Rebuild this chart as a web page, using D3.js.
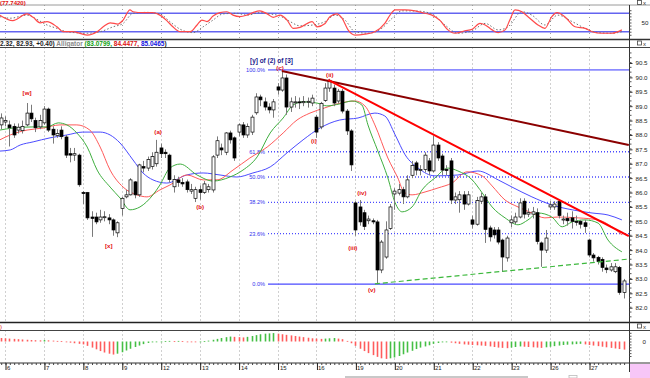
<!DOCTYPE html>
<html>
<head>
<meta charset="utf-8">
<script src="https://cdn.jsdelivr.net/npm/d3@7"></script>
<style>
  body { margin: 0; background: #fff; }
  svg { display: block; }
  text { font-family: "Liberation Sans", Arial, sans-serif; }
</style>
</head>
<body>
<svg width="650" height="378"></svg>
<script>
// ---- values ----
const days = [6, 7, 8, 9, 12, 13, 14, 15, 16, 19, 20, 21, 22, 23, 26, 27];
const barsPerDay = 9;
const firstBar = -1; // one bar of the previous session shows at the left edge

// hourly candles [open, high, low, close], bar -1 .. 143
const candles = [
  [88.35, 88.75, 88.20, 88.59], [88.45, 88.65, 88.30, 88.50], [88.35, 88.50, 87.60, 88.25], [88.30, 88.40, 87.90, 88.00],
  [88.17, 88.40, 88.05, 88.27], [88.15, 88.50, 88.05, 88.30], [88.35, 89.11, 88.30, 88.76], [88.76, 89.05, 88.45, 88.56],
  [88.50, 88.60, 88.10, 88.25], [88.28, 88.70, 88.20, 88.50], [88.42, 89.00, 88.35, 88.90], [88.90, 88.95, 88.10, 88.17],
  [88.20, 88.30, 87.70, 88.00], [87.98, 88.20, 87.90, 88.05], [88.17, 88.30, 87.85, 87.94], [87.93, 88.00, 87.20, 87.30],
  [87.35, 87.55, 87.05, 87.30], [87.30, 87.55, 87.10, 87.35], [87.30, 87.35, 86.20, 86.27], [86.00, 86.05, 85.60, 85.97],
  [86.00, 86.02, 85.05, 85.12], [85.15, 85.35, 84.46, 85.10], [85.15, 85.30, 84.90, 84.98], [85.05, 85.40, 84.95, 85.15],
  [85.15, 85.35, 85.00, 85.16], [85.12, 85.25, 84.90, 85.05], [85.05, 85.10, 84.50, 84.70], [84.60, 85.00, 84.45, 84.95],
  [85.45, 85.85, 85.20, 85.80], [85.85, 86.10, 85.80, 85.92], [85.92, 86.50, 85.90, 86.44], [86.37, 86.40, 85.80, 85.92],
  [85.92, 87.00, 85.85, 86.96], [86.90, 87.10, 86.70, 86.85], [86.85, 87.25, 86.75, 87.15], [86.90, 87.40, 86.80, 87.25],
  [87.00, 87.83, 86.90, 87.40], [87.55, 87.70, 87.20, 87.35], [87.40, 87.50, 87.20, 87.35], [87.30, 87.35, 86.35, 86.45],
  [86.20, 86.60, 86.00, 86.45], [86.44, 86.55, 86.20, 86.35], [86.35, 86.50, 86.20, 86.30], [86.37, 86.45, 86.00, 86.10],
  [86.05, 86.30, 85.95, 86.10], [85.80, 86.20, 85.67, 86.10], [86.10, 86.25, 85.75, 86.00], [86.00, 86.40, 85.95, 86.30],
  [86.10, 86.30, 86.00, 86.20], [86.09, 87.30, 86.00, 87.24], [87.30, 87.95, 87.20, 87.80], [87.55, 87.70, 87.30, 87.48],
  [87.40, 88.10, 87.30, 88.07], [88.07, 88.15, 87.70, 87.83], [87.90, 87.95, 87.10, 87.20], [88.10, 88.40, 87.95, 88.35],
  [88.35, 88.45, 87.90, 88.00], [88.00, 88.40, 87.90, 88.30], [88.10, 88.70, 88.00, 88.62], [88.77, 89.45, 88.70, 89.32],
  [89.32, 89.40, 89.00, 89.22], [89.15, 89.30, 88.85, 88.97], [88.97, 89.10, 88.75, 88.87], [88.87, 89.25, 88.60, 89.15],
  [89.67, 89.80, 89.40, 89.56], [89.56, 90.20, 89.50, 89.98], [89.98, 90.10, 88.70, 88.97], [88.97, 89.30, 88.80, 89.15],
  [89.12, 89.35, 88.95, 89.15], [89.15, 89.30, 88.90, 89.12], [89.12, 89.35, 89.00, 89.16], [89.15, 89.30, 88.95, 89.17],
  [89.11, 89.40, 89.00, 89.28], [88.62, 88.70, 87.90, 88.10], [88.28, 89.15, 88.20, 89.10], [89.20, 89.80, 89.15, 89.63],
  [89.63, 89.95, 89.50, 89.90], [89.63, 89.75, 89.00, 89.11], [89.18, 89.60, 89.10, 89.52], [89.52, 89.60, 88.75, 88.83],
  [88.83, 88.90, 88.00, 88.14], [88.14, 88.20, 86.75, 86.96], [85.64, 85.70, 84.50, 84.70], [85.50, 85.74, 84.85, 84.98],
  [85.30, 85.40, 84.70, 84.82], [85.02, 85.20, 84.90, 85.08], [85.02, 85.10, 84.90, 84.98], [84.98, 85.05, 82.82, 83.31],
  [83.31, 84.35, 83.20, 84.28], [83.76, 85.00, 83.70, 84.70], [84.75, 85.60, 84.70, 85.50], [85.95, 86.15, 85.40, 86.05],
  [85.98, 86.30, 85.90, 86.10], [86.10, 86.20, 85.60, 85.85], [85.85, 86.60, 85.80, 86.44], [86.60, 87.10, 86.50, 86.94],
  [87.03, 87.10, 86.60, 86.78], [86.78, 86.95, 86.60, 86.80], [86.80, 87.40, 86.70, 87.30], [87.10, 87.20, 86.60, 86.75],
  [86.75, 87.97, 86.70, 87.65], [87.65, 87.75, 87.10, 87.20], [87.27, 87.35, 86.60, 86.78], [86.80, 86.95, 86.60, 86.78],
  [87.10, 87.20, 85.60, 85.74], [85.74, 86.00, 85.60, 85.85], [85.75, 86.05, 85.30, 85.92], [85.92, 86.05, 85.40, 85.60],
  [85.60, 86.05, 85.55, 85.92], [85.05, 85.20, 84.75, 84.90], [84.90, 85.85, 84.85, 85.72], [85.70, 86.00, 85.60, 85.85],
  [85.85, 85.95, 84.25, 84.72], [84.77, 84.85, 84.30, 84.46], [84.70, 84.80, 84.40, 84.53], [84.70, 84.80, 84.20, 84.28],
  [84.35, 84.40, 83.24, 83.76], [83.73, 84.50, 83.60, 84.42], [84.95, 85.20, 84.80, 85.05], [84.98, 85.30, 84.90, 85.15],
  [85.15, 85.80, 85.10, 85.64], [85.70, 85.80, 85.10, 85.25], [85.25, 85.45, 85.15, 85.30], [85.25, 85.50, 85.10, 85.33],
  [85.30, 85.45, 84.20, 84.30], [84.25, 84.30, 83.42, 84.00], [84.00, 84.70, 83.90, 84.42], [85.50, 85.70, 85.40, 85.57],
  [85.50, 85.70, 85.40, 85.60], [85.70, 85.75, 85.10, 85.20], [85.05, 85.20, 84.90, 85.08], [85.10, 85.30, 84.85, 85.02],
  [85.12, 85.35, 84.75, 85.00], [85.00, 85.20, 84.85, 84.97], [85.00, 85.05, 84.75, 84.90], [84.95, 85.05, 84.60, 84.82],
  [84.35, 84.40, 83.75, 83.83], [83.83, 83.90, 83.60, 83.73], [83.75, 83.80, 83.50, 83.60], [83.68, 83.75, 83.25, 83.40],
  [83.38, 83.50, 83.20, 83.32], [83.31, 83.55, 83.25, 83.42], [83.25, 83.55, 83.20, 83.42], [83.40, 83.45, 82.45, 82.53],
  [82.53, 83.00, 82.32, 82.93]
];

// Alligator lines, [bar, price]
const jaw = [[-1.2,87.44],[1.2,87.48],[3.5,87.65],[6.5,87.76],[10.4,87.90],[14.3,88.00],[18,88.10],[22,88.10],[24.3,88.00],
  [26.6,87.72],[29.6,87.13],[31.9,86.68],[34.2,86.44],[37.4,86.33],[42,86.61],[45.8,86.68],[49.7,86.61],[53.6,86.54],
  [57.3,86.68],[61.3,86.89],[65.2,87.38],[68.9,87.83],[72.8,88.24],[77.4,88.52],[81.6,88.59],[85.5,88.76],[87.8,88.66],
  [90.2,88.00],[92.5,87.31],[95.5,86.85],[99.4,86.58],[104.7,86.61],[109.3,86.75],[114,86.44],[117.2,86.19],[121.8,85.85],
  [126.4,85.57],[131.1,85.40],[135.7,85.29],[139.4,85.22],[142.6,85.05]];
const teeth = [[-1.2,87.83],[1.2,88.00],[5.1,88.17],[8.8,88.24],[12.7,88.35],[16.6,88.35],[19.6,88.17],[22,87.58],[24.3,86.78],
  [27.3,86.19],[30.5,85.92],[32.8,85.85],[35.8,86.09],[38.1,86.26],[42.1,86.61],[45.8,86.44],[49,86.44],[52.7,86.78],
  [56.6,87.20],[60.6,87.58],[64.3,88.07],[67.5,88.52],[70.5,88.76],[73.9,88.94],[76.8,89.08],[80.9,89.18],[83.2,89.01],
  [85.5,88.35],[88.5,87.20],[90.8,86.51],[92.3,86.00],[94.1,85.92],[97.1,86.02],[100.1,86.16],[103.3,86.33],[106.8,86.72],
  [110.3,86.58],[112.6,86.23],[115.6,85.74],[118.6,85.50],[121.8,85.29],[124.8,85.12],[127.8,85.15],[132.5,85.12],
  [137.1,85.05],[140.3,84.81],[142.6,84.53]];
const lips = [[-1.2,88.17],[1.8,88.24],[6.5,88.28],[9.7,88.28],[12.3,88.42],[14.3,88.35],[16.6,88.07],[19,87.58],[21.3,86.78],
  [24.3,86.19],[26.6,85.81],[28.9,85.40],[31.2,85.50],[34.2,85.92],[35.8,86.26],[38.1,86.85],[40.5,86.99],[44.4,86.61],
  [48.1,86.40],[52,86.54],[55,86.78],[58.3,87.24],[61.3,88.07],[64.3,88.59],[66.6,89.04],[68.9,89.15],[72.1,89.11],
  [74.4,89.01],[77.4,89.08],[80.2,89.18],[82.5,89.04],[83.9,88.35],[86.2,87.44],[88.5,86.51],[90.2,85.64],[91.8,85.33],
  [94.1,85.50],[96.4,86.09],[99.4,86.51],[102.4,86.85],[104.7,86.75],[108,86.44],[110.3,85.99],[112.6,85.50],[115.6,85.12],
  [118.6,84.88],[120.9,85.05],[123.2,85.29],[126.4,85.15],[128.8,84.81],[131.1,84.98],[134.1,85.05],[137.1,84.94],
  [139.4,84.35],[142.6,83.94]];

// Stochastic %K and %D, [bar, value]
const stochK = [[-1.2,74],[1.8,56],[5.1,78],[6.5,67],[8.1,49],[9.7,53],[12,36],[13.4,20],[15.7,20],[19,9],[21.3,20],
  [22.7,36],[24.3,49],[26.1,45],[27.3,58],[28.9,91],[29.6,85],[31.9,82],[34.2,82],[35.8,74],[37.4,56],[38.8,36],
  [40.5,20],[42.8,20],[44.4,42],[45.5,58],[46.7,53],[48.1,71],[49.7,82],[51.3,85],[52.7,74],[54.3,69],[55.9,74],
  [57.3,82],[58.9,88],[60.6,78],[62,67],[63.6,74],[65.2,58],[66.6,31],[68.2,34],[71,53],[72.1,36],[74,47],[75.1,69],
  [76.7,78],[77.9,64],[79.3,26],[80.9,9],[83.2,12],[85.5,20],[87.8,47],[89,74],[90.2,91],[92.5,91],[94.8,88],[97.1,80],
  [98.7,74],[100.6,56],[102.4,26],[104,15],[106.3,23],[108,28],[109.8,47],[111,42],[112.6,26],[114,17],[115.6,26],
  [116.7,58],[117.9,91],[119.5,85],[120.9,69],[123.2,42],[124.8,31],[126.4,69],[127.6,82],[129.4,69],[131.8,36],
  [134.1,31],[135.7,20],[138,15],[140.3,15],[142.6,26]];
const stochD = [[-1.2,69],[1.2,64],[5.1,74],[7.4,60],[9.7,42],[12,31],[14.3,20],[19,15],[22,20],[25,36],[27.3,47],
  [29.6,80],[32.8,83],[35.8,78],[38.1,53],[40.5,28],[43.5,17],[45.8,36],[48.1,58],[50.4,78],[53.6,80],[55.9,74],
  [58.9,82],[61.3,78],[63.6,71],[65.9,53],[68.2,39],[71.2,42],[74,53],[76.3,74],[78.6,58],[80.9,20],[83.9,15],[87.1,31],
  [89.5,64],[91.8,88],[95.5,87],[98.7,78],[101.7,42],[104.7,15],[108,23],[111,47],[114,26],[116.3,36],[119.5,85],
  [121.8,74],[124.8,42],[127.8,74],[131.1,53],[134.1,31],[137.1,17],[140.3,15],[142.6,20]];

// Awesome oscillator, one value per bar (-1 .. 143)
const ao = [0.12, 0.11, 0.10, 0.09, 0.08, 0.07, 0.06, 0.05, 0.045, 0.04, 0.05, 0.04, 0.03, 0.02, 0.01,
  -0.02, -0.04, -0.06, -0.08, -0.10, -0.15, -0.21, -0.27, -0.33, -0.38, -0.42, -0.45, -0.42, -0.37, -0.31,
  -0.25, -0.19, -0.14, -0.09, -0.05, -0.03, -0.02, -0.01, 0.01, 0.02, 0.01, 0.02, 0.01, 0.00, -0.01,
  -0.02, -0.01, 0.01, 0.03, 0.06, 0.09, 0.12, 0.15, 0.17, 0.16, 0.15, 0.14, 0.16, 0.19, 0.22,
  0.25, 0.27, 0.28, 0.29, 0.27, 0.25, 0.23, 0.21, 0.19, 0.17, 0.15, 0.13, 0.11, 0.10, 0.09,
  0.10, 0.11, 0.12, 0.10, 0.08, 0.02, -0.06, -0.15, -0.25, -0.33, -0.40, -0.47, -0.53, -0.58, -0.60,
  -0.58, -0.55, -0.50, -0.44, -0.38, -0.32, -0.26, -0.21, -0.17, -0.13, -0.08, -0.05, -0.03, -0.02, -0.04,
  -0.06, -0.08, -0.10, -0.11, -0.12, -0.13, -0.14, -0.15, -0.17, -0.19, -0.21, -0.22, -0.23, -0.21, -0.19,
  -0.17, -0.18, -0.19, -0.20, -0.21, -0.22, -0.20, -0.18, -0.16, -0.14, -0.12, -0.11, -0.10, -0.09, -0.08,
  -0.10, -0.12, -0.14, -0.16, -0.18, -0.20, -0.22, -0.24, -0.26, -0.28];

const fibHigh = 90.26, fibLow = 82.82;
const fibRatios = [1, 0.618, 0.5, 0.382, 0.236, 0];
const fibNames = ["100.0%", "61.8%", "50.0%", "38.2%", "23.6%", "0.0%"];

// wave count labels [bar, price, text]
const waveLabels = [[5.1, 89.46, "[w]"], [24, 84.15, "[x]"], [35.4, 88.10, "(a)"], [45.1, 85.5, "(b)"],
  [63.6, 90.33, "(c)"], [71.4, 87.79, "(i)"], [75.1, 90.08, "(ii)"], [80.4, 84.08, "(iii)"],
  [82.5, 85.99, "(iv)"], [84.8, 82.62, "(v)"]];

const trendLines = [
  { from: [64.0, 90.22], to: [144.2, 87.65], color: "#8b0000", width: 2 },
  { from: [74.7, 89.91], to: [144.2, 84.49], color: "#ff0000", width: 2 },
  { from: [85.5, 82.83], to: [144.2, 83.69], color: "#3cb83c", width: 1.2, dash: "5,3" }
];

const priceTicks = d3.range(82, 90.51, 0.5);

// header pieces: [text, colour]
const mainHeader = [["2.32, 82.93, +0.40) ", "#222"], ["Alligator ", "#8a8a8a"], ["(83.0799, ", "#10a010"],
  ["84.4477, ", "#e01010"], ["85.0465", "#1010e0"], [")", "#222"]];

// ---- layout ----
const svg = d3.select("svg");
const AX = 629;
const stochTop = 5, stochBot = 39.5, mainTop = 47.5, mainBot = 322.5, aoTop = 330.5, axisY = 363;

const x = d3.scaleLinear().domain([0, 135]).range([5, 589]);
const y = d3.scaleLinear().domain([82, 90.5]).range([307.7, 63]);
const yS = d3.scaleLinear().domain([0, 100]).range([37.85, 7.15]);
const yA = d3.scaleLinear().domain([-0.6, 0.3]).range([358.9, 332.8]);

const defs = svg.append("defs");
function clip(id, y0, y1) {
  defs.append("clipPath").attr("id", id).append("rect")
    .attr("x", 0).attr("y", y0).attr("width", AX).attr("height", y1 - y0);
  return `url(#${id})`;
}

const dayStarts = days.map((d, k) => k * barsPerDay);
const px = i => Math.round(x(i)) + 0.5;

// vertical dotted day lines in every panel
[[stochTop, stochBot], [mainTop, mainBot], [aoTop, axisY]].forEach(([a, b]) => {
  svg.append("g").selectAll("line").data(dayStarts).join("line")
    .attr("x1", px).attr("x2", px).attr("y1", a).attr("y2", b)
    .attr("stroke", "#a0a0a0").attr("stroke-dasharray", "1,3");
});

// panel separators
[[stochTop, "#9a9a9a", 1], [stochBot, "#333", 1.5], [mainTop, "#444", 1], [mainBot, "#222", 1.5], [aoTop, "#444", 1], [axisY, "#333", 1]]
  .forEach(([yy, c, w]) => svg.append("line").attr("x1", 0).attr("x2", 650).attr("y1", yy).attr("y2", yy)
    .attr("stroke", c).attr("stroke-width", w));

// ---- stochastic panel ----
const gS = svg.append("g").attr("clip-path", clip("cs", stochTop, stochBot));
[80, 20].forEach(v => gS.append("line").attr("x1", 0).attr("x2", AX).attr("y1", yS(v)).attr("y2", yS(v))
  .attr("stroke", "#6464f0").attr("stroke-width", 1.6));
const sLine = d3.line().x(d => x(d[0])).y(d => yS(d[1])).curve(d3.curveMonotoneX);
gS.append("path").datum(stochD).attr("d", sLine).attr("fill", "none")
  .attr("stroke", "#707070").attr("stroke-width", 1).attr("stroke-dasharray", "1.5,2");
gS.append("path").datum(stochK).attr("d", sLine).attr("fill", "none")
  .attr("stroke", "#ff4a4a").attr("stroke-width", 1.2);

// ---- main panel ----
const gM = svg.append("g").attr("clip-path", clip("cm", mainTop, mainBot));

// fibonacci levels
fibRatios.forEach((r, k) => {
  const v = fibLow + (fibHigh - fibLow) * r;
  const solid = r === 1 || r === 0;
  gM.append("line").attr("x1", 268).attr("x2", AX).attr("y1", y(v)).attr("y2", y(v))
    .attr("stroke", r === 1 ? "#8c8cff" : "#4a4aff")
    .attr("stroke-width", r === 1 ? 1.8 : 1.3)
    .attr("stroke-dasharray", solid ? null : "1,2");
  gM.append("text").attr("x", 265).attr("y", y(v) + 2).attr("text-anchor", "end")
    .attr("font-size", 5.6).attr("fill", "#3333ee").text(fibNames[k]);
});

// alligator
const aLine = d3.line().x(d => x(d[0])).y(d => y(d[1])).curve(d3.curveMonotoneX);
[[jaw, "#4b4bff"], [teeth, "#ff5a5a"], [lips, "#3fae3f"]].forEach(([data, c]) =>
  gM.append("path").datum(data).attr("d", aLine).attr("fill", "none").attr("stroke", c).attr("stroke-width", 1));

// candles
const bars = candles.map((c, k) => ({ i: k + firstBar, o: c[0], h: c[1], l: c[2], c: c[3] }));
const gC = gM.append("g");
gC.selectAll("line").data(bars).join("line")
  .attr("x1", d => px(d.i)).attr("x2", d => px(d.i))
  .attr("y1", d => y(d.h)).attr("y2", d => y(d.l))
  .attr("stroke", "#7a7a7a").attr("stroke-width", 1);
gC.selectAll("rect").data(bars).join("rect")
  .attr("x", d => px(d.i) - 1.5).attr("width", 3)
  .attr("y", d => y(Math.max(d.o, d.c)))
  .attr("height", d => Math.max(1, Math.abs(y(d.o) - y(d.c))))
  .attr("fill", d => d.c >= d.o ? "#fff" : "#000")
  .attr("stroke", "#000").attr("stroke-width", 0.7);

// trend lines
trendLines.forEach(t => gM.append("line")
  .attr("x1", x(t.from[0])).attr("y1", y(t.from[1]))
  .attr("x2", x(t.to[0])).attr("y2", y(t.to[1]))
  .attr("stroke", t.color).attr("stroke-width", t.width)
  .attr("stroke-dasharray", t.dash || null));

// wave labels
gM.append("g").selectAll("text").data(waveLabels).join("text")
  .attr("x", d => x(d[0])).attr("y", d => y(d[1]) + 2.2)
  .attr("text-anchor", "middle").attr("font-size", 6.2).attr("font-weight", "bold")
  .attr("fill", "#e41010").text(d => d[2]);

gM.append("text").attr("x", 250).attr("y", 63).attr("font-size", 6.6).attr("font-weight", "bold")
  .attr("fill", "#1a1a8c").attr("textLength", 43).attr("lengthAdjust", "spacingAndGlyphs")
  .text("[y] of (2) of [3]");

// ---- awesome oscillator ----
const gA = svg.append("g").attr("clip-path", clip("ca", aoTop, axisY));
gA.selectAll("rect").data(ao).join("rect")
  .attr("x", (v, k) => px(k + firstBar) - 0.8).attr("width", 1.6)
  .attr("y", v => Math.min(yA(0), yA(v)))
  .attr("height", v => Math.max(0.8, Math.abs(yA(v) - yA(0))))
  .attr("fill", (v, k) => (k > 0 && v > ao[k - 1]) ? "#45bf45" : "#ff5c5c");

// ---- right axis ----
svg.append("line").attr("x1", AX + 0.5).attr("x2", AX + 0.5).attr("y1", stochTop).attr("y2", axisY + 9)
  .attr("stroke", "#333");
const gAxis = svg.append("g").attr("transform", `translate(${AX + 0.5},0)`)
  .call(d3.axisRight(y).tickValues(priceTicks).tickFormat(d3.format(".1f")).tickSize(3))
  .call(g => g.select(".domain").remove());
gAxis.attr("font-size", 6.2).attr("font-family", "Liberation Sans, Arial, sans-serif");
gAxis.selectAll("text").attr("x", 6).attr("fill", "#222");
gAxis.selectAll("line").attr("stroke", "#333");
svg.append("g").attr("transform", `translate(${AX + 0.5},0)`)
  .call(d3.axisRight(y).tickValues(d3.range(81.7, 91, 0.5 / 3).filter(v => y(v) > mainTop && y(v) < mainBot)).tickFormat("").tickSize(2))
  .call(g => g.select(".domain").remove()).selectAll("line").attr("stroke", "#555");

const gSA = svg.append("g").attr("transform", `translate(${AX + 0.5},0)`)
  .call(d3.axisRight(yS).tickValues(d3.range(10, 100, 10)).tickFormat(v => v === 50 ? "50" : "").tickSize(2))
  .call(g => g.select(".domain").remove());
gSA.attr("font-size", 6.2).selectAll("text").attr("x", 12).attr("fill", "#222");
gSA.selectAll("line").attr("stroke", "#555");

const gAA = svg.append("g").attr("transform", `translate(${AX + 0.5},0)`)
  .call(d3.axisRight(yA).tickValues(d3.range(-0.5, 0.31, 0.1)).tickFormat(v => Math.abs(v) < 1e-6 ? "0" : "").tickSize(2))
  .call(g => g.select(".domain").remove());
gAA.attr("font-size", 6.2).selectAll("text").attr("x", 13).attr("fill", "#222");
gAA.selectAll("line").attr("stroke", "#555");

// ---- time axis ----
svg.append("g").attr("transform", `translate(0,${axisY})`)
  .call(d3.axisBottom(x).tickValues(d3.range(firstBar, 144)).tickFormat("").tickSize(2))
  .call(g => g.select(".domain").remove())
  .selectAll("line").attr("stroke", "#444").attr("transform", "translate(0.5,0)");
svg.append("g").attr("transform", `translate(0,${axisY})`)
  .call(d3.axisBottom(x).tickValues(dayStarts).tickFormat("").tickSize(7))
  .call(g => g.select(".domain").remove())
  .selectAll("line").attr("stroke", "#222").attr("transform", "translate(0.5,0)");
svg.append("g").selectAll("text").data(days).join("text")
  .attr("x", (d, k) => px(dayStarts[k]) + 1.5).attr("y", axisY + 6.5)
  .attr("font-size", 6).attr("fill", "#222").text(d => d);

// ---- headers ----
svg.append("text").attr("x", 0).attr("y", 4.7).attr("font-size", 6).attr("font-weight", "bold")
  .attr("fill", "#e01010").text("(77.7420)");
svg.append("text").attr("x", 0).attr("y", 45.7).attr("font-size", 6.5).attr("font-weight", "bold")
  .selectAll("tspan").data(mainHeader).join("tspan")
  .attr("fill", d => d[1]).text(d => d[0]);
svg.append("text").attr("x", 0).attr("y", 328.8).attr("font-size", 6).attr("fill", "#e01010").text(")");

// window buttons
[0, 40.5, 323.5].forEach(yy => {
  svg.append("rect").attr("x", 637.5).attr("y", yy + 0.5).attr("width", 4).attr("height", 4)
    .attr("fill", "none").attr("stroke", "#444").attr("stroke-width", 0.8);
  svg.append("text").attr("x", 643).attr("y", yy + 5).attr("font-size", 6).attr("fill", "#333").text("x");
});

// corner box and scroll bar
svg.append("rect").attr("x", 630).attr("y", 364).attr("width", 20).attr("height", 14).attr("fill", "#f7c6f7");
svg.append("rect").attr("x", 345).attr("y", 376).attr("width", 183).attr("height", 2).attr("fill", "#c8c8c8");
svg.append("rect").attr("x", 569).attr("y", 375.5).attr("width", 8).attr("height", 2.5)
  .attr("fill", "none").attr("stroke", "#bbb").attr("stroke-width", 0.8);
</script>
</body>
</html>
